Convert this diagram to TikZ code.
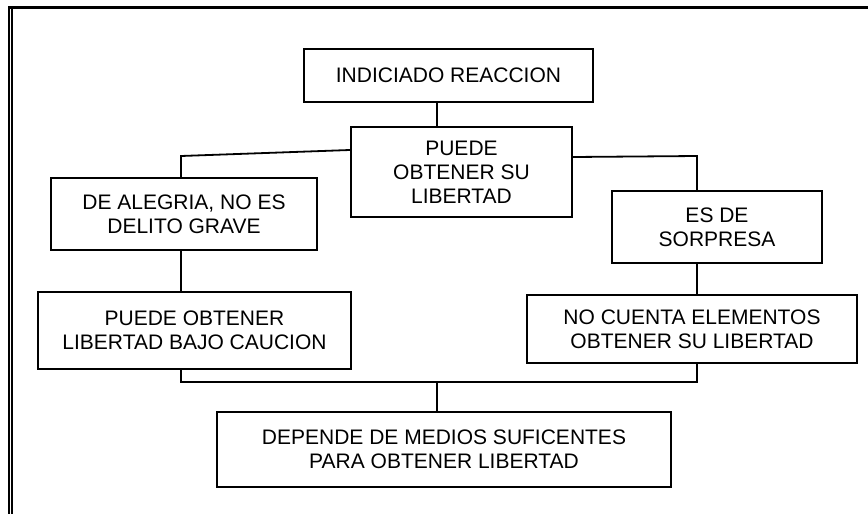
\documentclass[tikz,border=0pt]{standalone}
\usepackage{fontspec}
\setmainfont{Liberation Sans}
\begin{document}
\begin{tikzpicture}[x=1pt,y=-1pt,
  box/.style={draw,line width=2.2pt,align=center,inner sep=0pt,
    font=\fontsize{21}{24}\selectfont},
  link/.style={line width=1.8pt}]
\useasboundingbox (0,0) rectangle (868,514);
% frame
\draw[line width=3.4pt] (8,7.5) -- (868,7.5);
\draw[line width=2.4pt] (9,6) -- (9,514);
\draw[line width=1.3pt] (12,9) -- (12,514);
% boxes
\node[box,minimum width=289pt,minimum height=53pt] (A) at (448.5,75.5) {INDICIADO REACCION};
\node[box,minimum width=221pt,minimum height=90pt] (B) at (461.5,172) {PUEDE\\OBTENER SU\\LIBERTAD};
\node[box,minimum width=266pt,minimum height=72pt] (C) at (184,214) {DE ALEGRIA, NO ES\\DELITO GRAVE};
\node[box,minimum width=210pt,minimum height=72pt] (D) at (717,227) {ES DE\\SORPRESA};
\node[box,minimum width=313pt,minimum height=77pt] (E) at (194.5,330.5) {PUEDE OBTENER\\LIBERTAD BAJO CAUCION};
\node[box,minimum width=330pt,minimum height=68pt] (F) at (692,329) {NO CUENTA ELEMENTOS\\OBTENER SU LIBERTAD};
\node[box,minimum width=454pt,minimum height=75pt] (G) at (444,449.5) {DEPENDE DE MEDIOS SUFICENTES\\PARA OBTENER LIBERTAD};
% connector points
\coordinate (xm) at (437,0);
\coordinate (jl) at (181,156);
\coordinate (jr) at (697,156);
\coordinate (hl) at (181,382);
\coordinate (hr) at (697,382);
\coordinate (hm) at (437,382);
% connectors
\draw[link] (A.south -| xm) -- (B.north -| xm);
\draw[link] (B.west |- 0,150) -- (jl) -- (C.north -| jl);
\draw[link] (B.east |- 0,157) -- (jr) -- (D.north -| jr);
\draw[link] (C.south -| jl) -- (E.north -| jl);
\draw[link] (D.south -| jr) -- (F.north -| jr);
\draw[link] (E.south -| hl) -- (hl) -- (hr) -- (F.south -| hr);
\draw[link] (hm) -- (G.north -| hm);
\end{tikzpicture}
\end{document}
